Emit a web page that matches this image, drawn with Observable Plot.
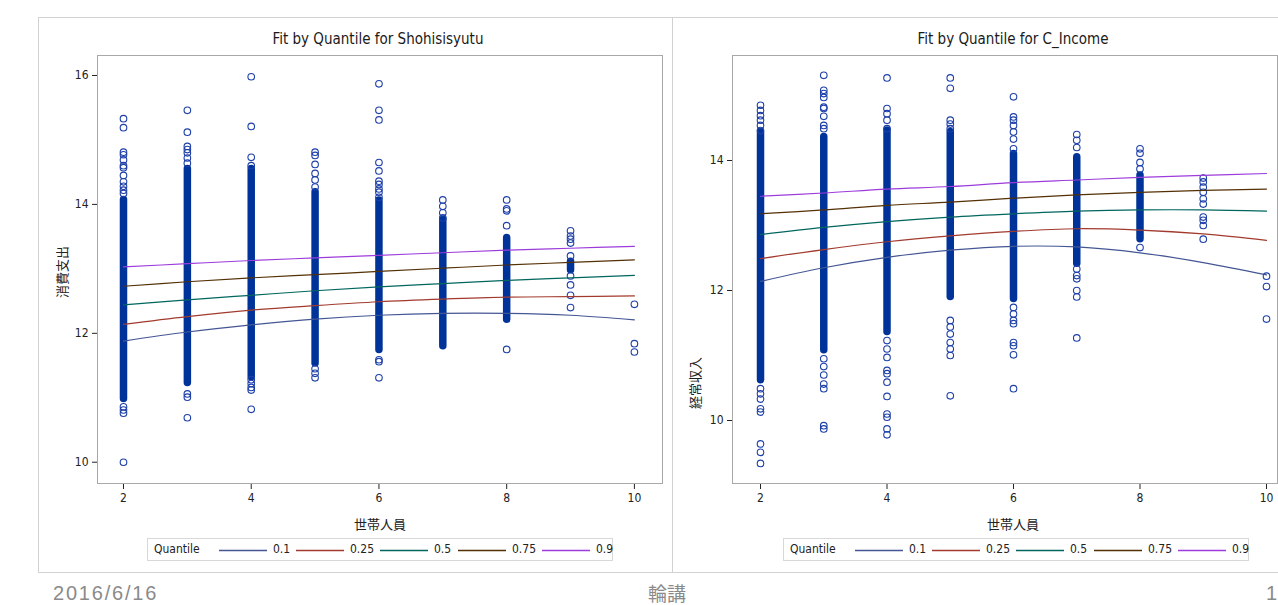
<!DOCTYPE html>
<html><head><meta charset="utf-8">
<script src="https://cdn.jsdelivr.net/npm/d3@7"></script>
<script src="https://cdn.jsdelivr.net/npm/@observablehq/plot@0.6"></script>
<style>
body{margin:0;background:#fff;}
#page{position:relative;width:1278px;height:605px;overflow:hidden;font-family:"Liberation Sans Narrow","DejaVu Sans Condensed","Liberation Sans",sans-serif;color:#222;}
.panel{position:absolute;border:1px solid #d2d2d2;box-sizing:border-box;}
.abs{position:absolute;white-space:nowrap;}
.title{font-size:15px;transform:translateX(-50%);color:#1a1a1a;}
.cjk{font-family:"Noto Sans CJK JP",sans-serif;font-size:13px;color:#222;}
.ylab{transform:translate(-50%,-50%) rotate(-90deg);}
.xlab{transform:translateX(-50%);}
.legend{position:absolute;border:1px solid #d8d8d8;box-sizing:border-box;height:23px;font-size:12px;}
.legend span{position:absolute;top:3px;}
.legend svg{position:absolute;top:10px;}
.footer{position:absolute;top:582px;height:22px;color:#8a8a8a;font-family:"Liberation Sans",sans-serif;font-size:20px;line-height:22px;}
</style></head>
<body><div id="page"></div>
<script>
// household size (世帯人員)
const sizes = [2,3,4,5,6,7,8,9,10];
const quantiles = ["0.1","0.25","0.5","0.75","0.9"];

// Shohisisyutu: fitted quantile curves at each household size
const shohiQ10 = [11.88,12.02,12.13,12.22,12.28,12.31,12.31,12.28,12.21];
const shohiQ25 = [12.14,12.26,12.36,12.43,12.49,12.53,12.56,12.57,12.58];
const shohiQ50 = [12.44,12.52,12.59,12.66,12.72,12.77,12.82,12.86,12.90];
const shohiQ75 = [12.73,12.80,12.86,12.91,12.96,13.01,13.06,13.10,13.14];
const shohiQ90 = [13.03,13.08,13.13,13.17,13.21,13.25,13.29,13.32,13.35];
// Shohisisyutu: dense (overlapping) observation ranges
const shohiDenseX    = [2,3,4,5,6,7,8,9];
const shohiDenseHigh = [14.07,14.55,14.55,14.19,14.06,13.76,13.48,13.11];
const shohiDenseLow  = [10.98,11.23,11.32,11.53,11.74,11.80,12.21,12.98];
// Shohisisyutu: individually visible observations [size, value]
const shohiPoints = [
  [2,15.33],[2,15.19],[2,14.81],[2,14.77],[2,14.69],[2,14.60],[2,14.57],[2,14.45],[2,14.35],[2,14.28],[2,14.22],[2,14.17],[2,10.86],[2,10.81],[2,10.76],[2,10.00],
  [3,15.46],[3,15.12],[3,14.90],[3,14.85],[3,14.80],[3,14.72],[3,14.64],[3,11.06],[3,11.01],[3,10.69],
  [4,15.98],[4,15.21],[4,14.73],[4,14.60],[4,11.28],[4,11.22],[4,11.16],[4,11.12],[4,10.82],
  [5,14.81],[5,14.76],[5,14.62],[5,14.48],[5,14.38],[5,14.27],[5,11.45],[5,11.38],[5,11.31],
  [6,15.87],[6,15.46],[6,15.31],[6,14.65],[6,14.52],[6,14.36],[6,14.31],[6,14.24],[6,14.19],[6,14.11],[6,11.59],[6,11.56],[6,11.31],
  [7,14.07],[7,13.97],[7,13.87],[7,13.79],
  [8,14.07],[8,13.93],[8,13.90],[8,13.67],[8,11.75],
  [9,13.59],[9,13.51],[9,13.46],[9,13.40],[9,13.20],[9,12.89],[9,12.75],[9,12.59],[9,12.40],
  [10,12.45],[10,11.84],[10,11.71]
];

// C_Income: fitted quantile curves
const incomeQ10 = [12.14,12.35,12.51,12.62,12.68,12.67,12.58,12.43,12.24];
const incomeQ25 = [12.49,12.63,12.75,12.84,12.91,12.95,12.93,12.87,12.77];
const incomeQ50 = [12.86,12.97,13.06,13.13,13.18,13.22,13.24,13.24,13.22];
const incomeQ75 = [13.18,13.24,13.31,13.36,13.42,13.47,13.51,13.54,13.56];
const incomeQ90 = [13.45,13.50,13.56,13.60,13.66,13.70,13.74,13.77,13.80];
const incomeDenseX    = [2,3,4,5,6,7,8];
const incomeDenseHigh = [14.44,14.36,14.46,14.44,14.10,14.05,13.77];
const incomeDenseLow  = [10.62,11.08,11.36,11.90,11.87,12.41,12.79];
const incomePoints = [
  [2,14.85],[2,14.77],[2,14.69],[2,14.62],[2,14.54],[2,14.46],[2,10.49],[2,10.41],[2,10.33],[2,10.18],[2,10.13],[2,9.64],[2,9.51],[2,9.34],
  [3,15.31],[3,15.08],[3,15.03],[3,14.97],[3,14.82],[3,14.80],[3,14.68],[3,14.54],[3,14.49],[3,10.95],[3,10.83],[3,10.70],[3,10.56],[3,10.49],[3,9.92],[3,9.87],
  [4,15.27],[4,14.80],[4,14.72],[4,14.62],[4,14.49],[4,11.23],[4,11.10],[4,10.97],[4,10.77],[4,10.72],[4,10.59],[4,10.37],[4,10.10],[4,10.05],[4,9.87],[4,9.78],
  [5,15.27],[5,15.11],[5,14.62],[5,14.56],[5,14.49],[5,11.54],[5,11.44],[5,11.33],[5,11.20],[5,11.10],[5,11.00],[5,10.38],
  [6,14.98],[6,14.67],[6,14.62],[6,14.54],[6,14.44],[6,14.33],[6,14.18],[6,11.74],[6,11.64],[6,11.54],[6,11.49],[6,11.20],[6,11.15],[6,11.01],[6,10.49],
  [7,14.40],[7,14.31],[7,14.20],[7,12.33],[7,12.23],[7,12.18],[7,12.00],[7,11.90],[7,11.27],
  [8,14.18],[8,14.11],[8,13.97],[8,13.87],[8,12.66],
  [9,13.73],[9,13.67],[9,13.59],[9,13.51],[9,13.41],[9,13.33],[9,13.13],[9,13.08],[9,13.00],[9,12.79],
  [10,12.22],[10,12.06],[10,11.56]
];

const quantileColors = ["#445694","#A23A2E","#01665E","#543005","#9D3CDB"];
const fontStack = '"Liberation Sans Narrow","DejaVu Sans Condensed","Liberation Sans",sans-serif';
const page = document.getElementById("page");

function el(cls, text, css) {
  const d = document.createElement("div");
  d.className = cls; d.textContent = text;
  Object.assign(d.style, css);
  page.appendChild(d);
  return d;
}

function chart(o) {
  const fitRows = quantiles.flatMap((q, i) => sizes.map((s, j) => ({q, x: s, y: o.fits[i][j]})));
  const denseRows = o.denseX.map((x, i) => ({x, hi: o.denseHigh[i], lo: o.denseLow[i]}));
  const pts = o.points.map(([x, y]) => ({x, y}));
  const svg = Plot.plot({
    width: o.width, height: 460,
    marginLeft: 59, marginRight: o.mR, marginTop: 5, marginBottom: 27,
    style: {fontFamily: fontStack, fontSize: "12px", color: "#222", background: "transparent"},
    x: {domain: o.xDomain, ticks: [2,4,6,8,10], tickSize: 6, tickPadding: 4, label: null, tickFormat: d => String(d)},
    y: {domain: o.yDomain, ticks: o.yTicks, tickSize: 5, tickPadding: 4, label: null, tickFormat: d => String(d)},
    color: {domain: quantiles, range: quantileColors},
    marks: [
      Plot.ruleX(denseRows, {x: "x", y1: "lo", y2: "hi", stroke: "#003399", strokeWidth: 7.5, strokeLinecap: "round"}),
      Plot.dot(pts, {x: "x", y: "y", r: 3.3, stroke: "#1d3fa8", strokeWidth: 1.1, fill: "none"}),
      Plot.line(fitRows, {x: "x", y: "y", z: "q", stroke: "q", strokeWidth: 1.2, curve: "catmull-rom"}),
      Plot.frame({stroke: "#a8a8a8"})
    ]
  });
  Object.assign(svg.style, {position: "absolute", left: o.left + "px", top: "50px"});
  page.appendChild(svg);
}

// panels
el("panel", "", {left: "38px", top: "17px", width: "635px", height: "556px"});
el("panel", "", {left: "672px", top: "17px", width: "640px", height: "556px"});

chart({left: 38, width: 634, mR: 10, xDomain: [1.593, 10.44], yDomain: [9.67, 16.31], yTicks: [10,12,14,16],
  fits: [shohiQ10, shohiQ25, shohiQ50, shohiQ75, shohiQ90],
  denseX: shohiDenseX, denseHigh: shohiDenseHigh, denseLow: shohiDenseLow, points: shohiPoints});
chart({left: 673, width: 605, mR: 1, xDomain: [1.557, 10.174], yDomain: [9.031, 15.615], yTicks: [10,12,14],
  fits: [incomeQ10, incomeQ25, incomeQ50, incomeQ75, incomeQ90],
  denseX: incomeDenseX, denseHigh: incomeDenseHigh, denseLow: incomeDenseLow, points: incomePoints});

// titles & axis labels
el("abs title", "Fit by Quantile for Shohisisyutu", {left: "378px", top: "30px"});
el("abs title", "Fit by Quantile for C_Income", {left: "1013px", top: "30px"});
el("abs cjk ylab", "消費支出", {left: "61px", top: "272px"});
el("abs cjk ylab", "経常収入", {left: "694px", top: "383px"});
el("abs cjk xlab", "世帯人員", {left: "380px", top: "514px"});
el("abs cjk xlab", "世帯人員", {left: "1013px", top: "514px"});

// legends
function legend(left) {
  const box = el("legend", "", {left: left + "px", top: "538px", width: "466px"});
  const q = document.createElement("span"); q.textContent = "Quantile"; q.style.left = "6px"; box.appendChild(q);
  const offs = [71, 148, 232, 310, 394];
  quantiles.forEach((name, i) => {
    const s = document.createElementNS("http://www.w3.org/2000/svg", "svg");
    s.setAttribute("width", 48); s.setAttribute("height", 3);
    s.style.left = offs[i] + "px";
    s.innerHTML = `<line x1="0" x2="48" y1="1.5" y2="1.5" stroke="${quantileColors[i]}" stroke-width="1.3"/>`;
    box.appendChild(s);
    const t = document.createElement("span"); t.textContent = name; t.style.left = (offs[i] + 54) + "px";
    box.appendChild(t);
  });
}
legend(147);
legend(783);

// footer
el("footer", "2016/6/16", {left: "53px", letterSpacing: "1.8px"});
el("footer", "輪講", {left: "648px", fontFamily: '"Noto Sans CJK JP",sans-serif', fontSize: "19px"});
el("footer", "1", {left: "1266px"});
</script></body></html>
